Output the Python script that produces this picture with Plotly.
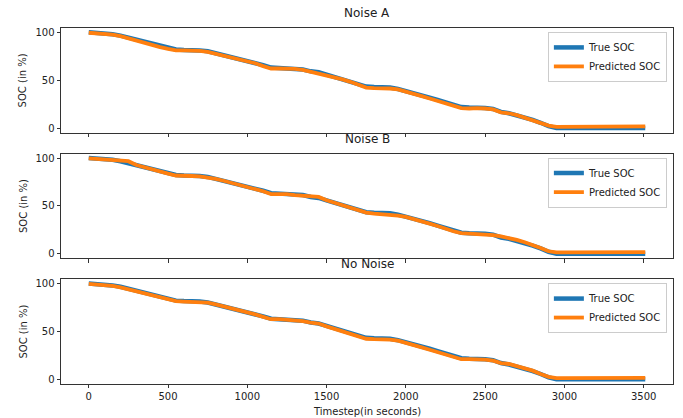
import plotly.graph_objects as go

# ---------------- data ----------------
time_s = [0, 50, 100, 150, 200, 250, 300, 350, 400, 450, 500, 550, 600, 650, 700, 750,
          800, 850, 900, 950, 1000, 1050, 1100, 1150, 1200, 1250, 1300, 1350, 1400, 1450,
          1500, 1550, 1600, 1650, 1700, 1750, 1800, 1850, 1900, 1950, 2000, 2050, 2100,
          2150, 2200, 2250, 2300, 2350, 2400, 2450, 2500, 2550, 2600, 2650, 2700, 2750,
          2800, 2850, 2900, 2950, 3000, 3050, 3100, 3150, 3200, 3250, 3300, 3350, 3400,
          3450, 3500, 3510]

true_soc = [100.5, 100, 99.5, 98.5, 97, 95, 92.5, 90.5, 88.5, 86, 84, 82.5, 82, 82, 81.5, 80.5,
            78.5, 76.5, 75, 73, 71, 68.5, 66, 63.5, 63, 63, 62.5, 61.5, 59.5, 58.5,
            56, 53.5, 51.5, 49, 46.5, 43.5, 43, 43, 42.5, 41, 39, 37, 34.5,
            32, 29.5, 27, 24, 22, 21.5, 21.5, 21, 20, 17, 15.5, 13.5, 11,
            8.5, 5.5, 2, 0, 0, 0, 0, 0, 0, 0, 0, 0, 0,
            0, 0, 0]

pred_noise_a = [100, 99.5, 99, 98, 96.5, 94, 91.5, 89.5, 87.5, 85, 83, 81.5, 81.5, 81.5, 81, 80,
                78, 76, 74.5, 72.5, 70.5, 68, 65, 62.5, 62.5, 62.5, 62, 61, 59, 58,
                55.5, 53, 51, 48.5, 45.5, 42.5, 42, 42, 41.5, 40.5, 38.5, 36, 33.5,
                31, 28.5, 25.5, 23, 21, 20.5, 21, 20.5, 19.5, 16.5, 15.5, 13.5, 11,
                8.5, 5.5, 2.5, 1.2, 1.2, 1.2, 1.2, 1.2, 1.3, 1.3, 1.4, 1.5, 1.6,
                1.7, 1.8, 1.8]

pred_noise_b = [100, 99.5, 98.5, 98, 97, 97, 93, 90.5, 88, 86, 84, 82, 82, 81.5, 81, 80,
                78.5, 76.5, 74.5, 72.5, 70.5, 68, 65.5, 62.5, 62.5, 62.5, 61.5, 60.5, 59.5, 59.5,
                56, 53.5, 51, 48.5, 46, 43, 42, 41.5, 41, 40, 38.5, 36.5, 34,
                31.5, 29, 26, 23.5, 21.5, 21, 21, 20.5, 19.5, 18, 16.5, 14.5, 12,
                9.5, 6, 2.5, 1.3, 1.3, 1.3, 1.3, 1.3, 1.3, 1.4, 1.4, 1.5, 1.5,
                1.6, 1.6, 1.6]

pred_no_noise = [100, 99.5, 99, 98, 96.5, 94.5, 92, 90, 88, 85.5, 83.5, 82, 81.5, 81.5, 81, 80.5,
                 78.5, 76.5, 74.5, 72.5, 70.5, 68, 65.5, 63, 63, 62.5, 62, 61, 59.5, 58.5,
                 55.5, 53, 51, 48, 45.5, 42.5, 42, 42, 41.5, 40.5, 38.5, 36, 33.5,
                 31, 28.5, 26, 23, 21, 21, 21, 20.5, 19.5, 17, 16, 14, 11.5,
                 9, 5.5, 2.5, 1.2, 1.2, 1.2, 1.2, 1.2, 1.2, 1.3, 1.3, 1.3, 1.4,
                 1.4, 1.5, 1.5]

panel_titles = ["Noise A", "Noise B", "No Noise"]
pred_series = [pred_noise_a, pred_noise_b, pred_no_noise]
series_names = ["True SOC", "Predicted SOC"]
x_ticks = [0, 500, 1000, 1500, 2000, 2500, 3000, 3500]
y_ticks = [0, 50, 100]
x_title = "Timestep(in seconds)"
y_title = "SOC (in %)"

# ---------------- styling ----------------
BLUE = "#1f77b4"
ORANGE = "#ff7f0e"
FONT = "DejaVu Sans"
AX = "#333333"

domains = [[0.7056, 1.0], [0.3528, 0.6472], [0.0, 0.2944]]
legend_y = [0.989, 0.636, 0.2835]

fig = go.Figure()
layout = dict(
    width=683, height=418,
    margin=dict(l=61, r=10, t=28, b=34, autoexpand=False),
    paper_bgcolor="white", plot_bgcolor="white",
    font=dict(family=FONT, size=10, color="#222"),
    annotations=[],
)

for i in range(3):
    n = i + 1
    xa = "x" if n == 1 else f"x{n}"
    ya = "y" if n == 1 else f"y{n}"
    lg = "legend" if n == 1 else f"legend{n}"
    fig.add_trace(go.Scatter(x=time_s, y=true_soc, mode="lines", name=series_names[0],
                             line=dict(color=BLUE, width=4.5), xaxis=xa, yaxis=ya, legend=lg))
    fig.add_trace(go.Scatter(x=time_s, y=pred_series[i], mode="lines", name=series_names[1],
                             line=dict(color=ORANGE, width=3.8), xaxis=xa, yaxis=ya, legend=lg))

    xkey = "xaxis" if n == 1 else f"xaxis{n}"
    ykey = "yaxis" if n == 1 else f"yaxis{n}"
    layout[xkey] = dict(
        domain=[0, 1], anchor=ya, range=[-175, 3685], automargin=False,
        tickvals=x_ticks, showticklabels=(n == 3),
        ticks="outside", ticklen=3.5, tickwidth=0.8, tickcolor=AX,
        showline=True, mirror=True, linecolor=AX, linewidth=0.8,
        showgrid=False, zeroline=False,
        tickfont=dict(family=FONT, size=10, color="#222"),
    )
    if n != 1:
        layout[xkey]["matches"] = "x"
    layout[ykey] = dict(
        domain=domains[i], anchor=xa, range=[-5, 105], automargin=False,
        tickvals=y_ticks, ticks="outside", ticklen=3.5, tickwidth=0.8, tickcolor=AX,
        showline=True, mirror=True, linecolor=AX, linewidth=0.8,
        showgrid=False, zeroline=False,
        tickfont=dict(family=FONT, size=10, color="#222"),
        title=dict(text=y_title, font=dict(family=FONT, size=10, color="#222"), standoff=6),
    )
    layout[lg] = dict(
        x=0.990, y=legend_y[i], xanchor="right", yanchor="top",
        bgcolor="rgba(255,255,255,0.8)", bordercolor="#cccccc", borderwidth=1,
        font=dict(family=FONT, size=10, color="#222"),
        tracegroupgap=0, itemwidth=30,
    )
    layout["annotations"].append(dict(
        text=panel_titles[i], xref="paper", yref="paper", x=0.5, y=domains[i][1],
        xanchor="center", yanchor="bottom", yshift=6, showarrow=False,
        font=dict(family=FONT, size=12, color="#222"),
    ))

layout["annotations"].append(dict(
    text=x_title, xref="paper", yref="paper", x=0.5, y=0,
    xanchor="center", yanchor="middle", yshift=-27, showarrow=False,
    font=dict(family=FONT, size=10, color="#222"),
))

fig.update_layout(**layout)
fig.write_html("out.html")
